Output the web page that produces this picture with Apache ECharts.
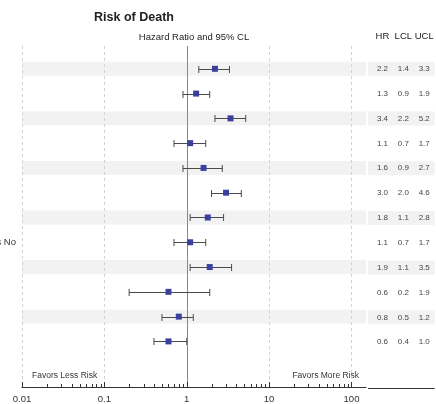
<!DOCTYPE html>
<html>
<head>
<meta charset="utf-8">
<script src="https://cdn.jsdelivr.net/npm/echarts@6/dist/echarts.min.js"></script>
<style>
  html, body { margin: 0; padding: 0; background: #fff; }
  #chart { width: 436px; height: 404px; }
</style>
</head>
<body>
<div id="chart"></div>
<script>
// Hazard ratios with 95% confidence limits, one row per comparison
const rows = [1, 2, 3, 4, 5, 6, 7, 8, 9, 10, 11, 12];
const hr  = [2.2, 1.3, 3.4, 1.1, 1.6, 3.0, 1.8, 1.1, 1.9, 0.6, 0.8, 0.6];
const lcl = [1.4, 0.9, 2.2, 0.7, 0.9, 2.0, 1.1, 0.7, 1.1, 0.2, 0.5, 0.4];
const ucl = [3.3, 1.9, 5.2, 1.7, 2.7, 4.6, 2.8, 1.7, 3.5, 1.9, 1.2, 1.0];
const rowNames = ['', '', '', '', '', '', '', 's No', '', '', '', ''];
const tableColumns = ['HR', 'LCL', 'UCL'];

// Log axis decades and minor tick positions
const decades = [0.01, 0.1, 1, 10, 100];
const minorTicks = [];
[0.01, 0.1, 1, 10].forEach(function (d) {
  for (let k = 2; k <= 9; k++) minorTicks.push(+(d * k).toPrecision(3));
});

const FONT = 'Liberation Sans, Arial, sans-serif';
const X_MIN = 0.01, X_MAX = 150;
const Y_MIN = 0.08, Y_MAX = 13.84;
const BAND_HALF = 0.28;
const stripeRows = rows.filter(function (r) { return r % 2 === 1; });

const fmt = function (v) { return v.toFixed(1); };

const chart = echarts.init(document.getElementById('chart'), null, { renderer: 'canvas' });

const option = {
  animation: false,
  backgroundColor: '#ffffff',
  textStyle: { fontFamily: FONT },
  grid: [
    { left: 22, right: 70, top: 46, bottom: 16 },
    { left: 372, right: -3, top: 46, bottom: 16 }
  ],
  xAxis: [
    {
      gridIndex: 0,
      type: 'log', logBase: 10, min: X_MIN, max: X_MAX,
      axisLine: { show: true, lineStyle: { color: '#333', width: 1 } },
      axisTick: { show: false },
      splitLine: { show: false },
      axisLabel: {
        color: '#333', fontSize: 9.5, margin: 7, showMaxLabel: false,
        formatter: function (v) {
          const hit = decades.find(function (d) { return Math.abs(d - v) / d < 1e-6; });
          return hit === undefined ? '' : String(hit);
        }
      }
    },
    {
      gridIndex: 1,
      type: 'category', position: 'top', data: tableColumns,
      axisLine: { show: false }, axisTick: { show: false }, splitLine: { show: false },
      axisLabel: { color: '#222', fontSize: 9.5, margin: 5, interval: 0, hideOverlap: false }
    }
  ],
  yAxis: [
    { gridIndex: 0, type: 'value', inverse: true, min: Y_MIN, max: Y_MAX, show: false },
    { gridIndex: 1, type: 'value', inverse: true, min: Y_MIN, max: Y_MAX, show: false }
  ],
  graphic: [
    { type: 'text', x: 134, y: 18, style: { text: 'Risk of Death', align: 'center', verticalAlign: 'middle', fontSize: 12.5, fontWeight: 'bold', fill: '#222', fontFamily: FONT } },
    { type: 'text', x: 194, y: 37, style: { text: 'Hazard Ratio and 95% CL', align: 'center', verticalAlign: 'middle', fontSize: 9.5, fill: '#222', fontFamily: FONT } },
    { type: 'text', x: 32, y: 376, style: { text: 'Favors Less Risk', align: 'left', verticalAlign: 'middle', fontSize: 8.5, fill: '#333', fontFamily: FONT } },
    { type: 'text', x: 359, y: 376, style: { text: 'Favors More Risk', align: 'right', verticalAlign: 'middle', fontSize: 8.5, fill: '#333', fontFamily: FONT } }
  ],
  series: [
    // Alternating row stripes in the plot panel
    {
      type: 'custom', xAxisIndex: 0, yAxisIndex: 0, z: 1, silent: true,
      data: stripeRows.map(function (r) { return [r]; }),
      encode: { y: 0 },
      renderItem: function (params, api) {
        const r = api.value(0);
        const p0 = api.coord([X_MIN, r - BAND_HALF]);
        const p1 = api.coord([X_MAX, r + BAND_HALF]);
        return { type: 'rect', shape: { x: p0[0], y: p0[1], width: p1[0] - p0[0], height: p1[1] - p0[1] }, style: { fill: '#f2f2f2' } };
      }
    },
    // Reference lines at each decade; solid at HR = 1
    {
      type: 'custom', xAxisIndex: 0, yAxisIndex: 0, z: 2, silent: true,
      data: decades.map(function (d) { return [d]; }),
      encode: { x: 0 },
      renderItem: function (params, api) {
        const v = api.value(0);
        const top = api.coord([v, Y_MIN]);
        const bot = api.coord([v, Y_MAX]);
        const solid = v === 1;
        return {
          type: 'line',
          shape: { x1: Math.round(top[0]) + 0.5, y1: top[1], x2: Math.round(bot[0]) + 0.5, y2: bot[1] },
          style: solid ? { stroke: '#888', lineWidth: 1 } : { stroke: '#d2d2d2', lineWidth: 1, lineDash: [3, 3] }
        };
      }
    },
    // Major and minor ticks along the log axis
    {
      type: 'custom', xAxisIndex: 0, yAxisIndex: 0, z: 3, silent: true, clip: false,
      data: decades.map(function (d) { return [d, 1]; }).concat(minorTicks.map(function (d) { return [d, 0]; })),
      encode: { x: 0 },
      renderItem: function (params, api) {
        const p = api.coord([api.value(0), Y_MAX]);
        const major = api.value(1) === 1;
        const x = Math.round(p[0]) + 0.5;
        return {
          type: 'line',
          shape: { x1: x, y1: p[1] - (major ? 5 : 3), x2: x, y2: p[1] + (major ? 1 : 0) },
          style: { stroke: '#333', lineWidth: 1 }
        };
      }
    },
    // Hazard ratio markers with confidence interval whiskers
    {
      type: 'custom', xAxisIndex: 0, yAxisIndex: 0, z: 5, clip: false,
      data: rows.map(function (r, i) { return [hr[i], lcl[i], ucl[i], r, i]; }),
      encode: { x: [0, 1, 2], y: 3 },
      renderItem: function (params, api) {
        const r = api.value(3);
        const i = api.value(4);
        const pH = api.coord([api.value(0), r]);
        const pL = api.coord([api.value(1), r]);
        const pU = api.coord([api.value(2), r]);
        const y = Math.round(pH[1]) + 0.5;
        const cap = 3.5;
        const whisker = { stroke: '#4a4a4a', lineWidth: 1 };
        const children = [
          { type: 'line', shape: { x1: pL[0], y1: y, x2: pU[0], y2: y }, style: whisker },
          { type: 'line', shape: { x1: pL[0], y1: y - cap, x2: pL[0], y2: y + cap }, style: whisker },
          { type: 'line', shape: { x1: pU[0], y1: y - cap, x2: pU[0], y2: y + cap }, style: whisker },
          { type: 'rect', shape: { x: pH[0] - 3, y: pH[1] - 3, width: 6, height: 6 }, style: { fill: '#3b3f9e' } }
        ];
        if (rowNames[i]) {
          children.push({
            type: 'text',
            style: {
              text: rowNames[i], x: params.coordSys.x - 6, y: pH[1],
              align: 'right', verticalAlign: 'middle',
              fontSize: 9.5, fill: '#333', fontFamily: FONT
            }
          });
        }
        return { type: 'group', children: children };
      }
    },
    // Value table: stripes, HR / LCL / UCL columns and its baseline
    {
      type: 'custom', xAxisIndex: 1, yAxisIndex: 1, z: 4, clip: false, silent: true,
      data: rows.map(function (r, i) { return [r, hr[i], lcl[i], ucl[i]]; }),
      encode: { y: 0 },
      renderItem: function (params, api) {
        const r = api.value(0);
        const cs = params.coordSys;
        const left = cs.x - 4;
        const children = [];
        if (r % 2 === 1) {
          const a = api.coord([0, r - BAND_HALF]);
          const b = api.coord([0, r + BAND_HALF]);
          children.push({ type: 'rect', shape: { x: left, y: a[1], width: cs.x + cs.width - left, height: b[1] - a[1] }, style: { fill: '#f2f2f2' } });
        }
        [1, 2, 3].forEach(function (k, c) {
          const p = api.coord([c, r]);
          children.push({
            type: 'text',
            style: {
              text: fmt(api.value(k)), x: p[0], y: p[1],
              align: 'center', verticalAlign: 'middle',
              fontSize: 8, fill: '#444', fontFamily: FONT
            }
          });
        });
        if (params.dataIndex === 0) {
          const base = api.coord([0, Y_MAX]);
          const yb = Math.round(base[1]) + 0.5;
          children.push({ type: 'line', shape: { x1: left, y1: yb, x2: cs.x + cs.width, y2: yb }, style: { stroke: '#333', lineWidth: 1 } });
        }
        return { type: 'group', children: children };
      }
    }
  ]
};

chart.setOption(option);
</script>
</body>
</html>
